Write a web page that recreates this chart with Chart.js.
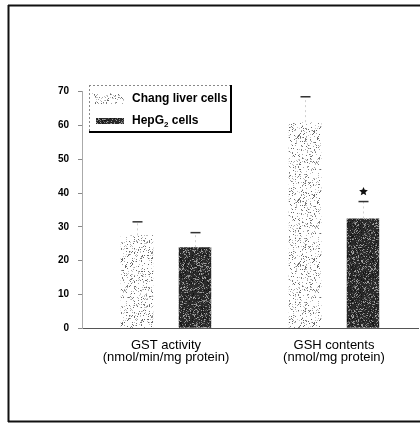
<!DOCTYPE html>
<html>
<head>
<meta charset="utf-8">
<script src="https://cdn.jsdelivr.net/npm/chart.js@4/dist/chart.umd.min.js"></script>
<style>
  html, body { margin: 0; padding: 0; background: #fff; }
  #wrap { width: 420px; height: 423px; position: relative; }
</style>
</head>
<body>
<div id="wrap"><canvas id="c" width="420" height="423"></canvas></div>
<script>
// Categories (two-line axis labels)
const categories = [
  ['GST activity', '(nmol/min/mg protein)'],
  ['GSH contents', '(nmol/mg protein)']
];
const seriesNames = ['Chang liver cells', 'HepG\u2082 cells'];

// Means
const changValues = [27.5, 61];
const hepg2Values = [24, 32.5];

// Upper error (SD) for each bar
const changErr = [4, 7.5];
const hepg2Err = [4.3, 5];

// Significance marks above HepG2 bars
const hepg2Marks = ['', '*'];

// Y axis
const yMin = 0, yMax = 70, yStep = 10;

// ---- stipple textures ----
function hash(n) {
  n = (n ^ 61) ^ (n >>> 16);
  n = (n + (n << 3)) | 0;
  n = n ^ (n >>> 4);
  n = Math.imul(n, 0x27d4eb2d);
  n = n ^ (n >>> 15);
  return (n >>> 0) / 4294967296;
}
function stipple(base, dot, density, seed) {
  const s = 64;
  const cv = document.createElement('canvas');
  cv.width = s; cv.height = s;
  const g = cv.getContext('2d');
  g.fillStyle = base;
  g.fillRect(0, 0, s, s);
  for (let y = 0; y < s; y++) {
    for (let x = 0; x < s; x++) {
      const h = hash(x * 131 + y * 7919 + seed);
      if (h < density) {
        const k = hash(x * 17 + y * 31 + seed * 3);
        g.fillStyle = dot[Math.floor(k * dot.length)];
        g.fillRect(x, y, 1, 1);
      }
    }
  }
  return g.createPattern(cv, 'repeat');
}
const ctx = document.getElementById('c').getContext('2d');
const lightFill = stipple('#ffffff', ['#a8a8a8', '#7a7a7a', '#c8c8c8', '#666'], 0.17, 11);
const darkFill = stipple('#2a2a2a', ['#808080', '#5a5a5a', '#a0a0a0', '#111'], 0.35, 29);

// ---- frame around the figure ----
const framePlugin = {
  id: 'frame',
  beforeDraw(chart) {
    const g = chart.ctx;
    g.save();
    g.strokeStyle = '#111';
    g.lineWidth = 2;
    g.beginPath();
    g.moveTo(8, 5.5); g.lineTo(420, 5.5);
    g.moveTo(8.5, 5); g.lineTo(8.5, 422);
    g.moveTo(8, 421.5); g.lineTo(420, 421.5);
    g.stroke();
    g.restore();
  }
};

// ---- upward error bars and significance marks ----
const errorPlugin = {
  id: 'errors',
  afterDatasetsDraw(chart) {
    const g = chart.ctx;
    const ys = chart.scales.y;
    const errs = [changErr, hepg2Err];
    g.save();
    chart.data.datasets.forEach((ds, i) => {
      const meta = chart.getDatasetMeta(i);
      meta.data.forEach((bar, j) => {
        const v = ds.data[j];
        const top = ys.getPixelForValue(v + errs[i][j]);
        const x = Math.round(bar.x) + 0.5;
        g.strokeStyle = '#d0d0d0';
        g.lineWidth = 1;
        g.setLineDash([2, 3]);
        g.beginPath();
        g.moveTo(x, bar.y);
        g.lineTo(x, top);
        g.stroke();
        g.setLineDash([]);
        g.strokeStyle = '#333';
        g.lineWidth = 1.5;
        g.beginPath();
        g.moveTo(x - 5, top);
        g.lineTo(x + 5, top);
        g.stroke();
        if (i === 1 && hepg2Marks[j]) {
          // five-point star
          const cx = x, cy = top - 10, R = 4.6, r = 2.1;
          g.fillStyle = '#111';
          g.beginPath();
          for (let k = 0; k < 10; k++) {
            const rad = k % 2 ? r : R;
            const a = -Math.PI / 2 + k * Math.PI / 5;
            const px = cx + rad * Math.cos(a), py = cy + rad * Math.sin(a);
            k ? g.lineTo(px, py) : g.moveTo(px, py);
          }
          g.closePath();
          g.fill();
        }
      });
    });
    g.restore();
  }
};

// ---- boxed legend inside the plot ----
function drawLabel(g, text, x, y) {
  let cx = x;
  for (const ch of text) {
    if (ch === '\u2082') {
      g.save();
      g.font = 'bold 8px "Liberation Sans", Arial, sans-serif';
      g.fillText('2', cx, y + 4);
      cx += g.measureText('2').width;
      g.restore();
    } else {
      g.fillText(ch, cx, y);
      cx += g.measureText(ch).width;
    }
  }
}
const legendPlugin = {
  id: 'boxLegend',
  afterDraw(chart) {
    const g = chart.ctx;
    const L = 89, T = 85, R = 231, B = 132;
    g.save();
    // dotted top/left edges
    g.strokeStyle = '#888';
    g.lineWidth = 1;
    g.setLineDash([2, 2]);
    g.beginPath();
    g.moveTo(L, T + 0.5); g.lineTo(R, T + 0.5);
    g.moveTo(L + 0.5, T); g.lineTo(L + 0.5, B);
    g.stroke();
    g.setLineDash([]);
    // heavy right/bottom edges
    g.strokeStyle = '#000';
    g.lineWidth = 2;
    g.beginPath();
    g.moveTo(R, T); g.lineTo(R, B);
    g.moveTo(L, B); g.lineTo(R + 1, B);
    g.stroke();
    // entries
    const ds = chart.data.datasets;
    g.fillStyle = ds[0].backgroundColor;
    g.fillRect(92, 93, 32, 11);
    g.fillStyle = ds[1].backgroundColor;
    g.fillRect(96, 118, 28, 6);
    g.fillStyle = '#000';
    g.font = 'bold 12px "Liberation Sans", Arial, sans-serif';
    g.textBaseline = 'middle';
    drawLabel(g, ds[0].label, 132, 98.5);
    drawLabel(g, ds[1].label, 132, 121);
    g.restore();
  }
};

const yTicks = [];
for (let v = yMin; v <= yMax; v += yStep) yTicks.push(v);

new Chart(ctx, {
  type: 'bar',
  data: {
    labels: categories,
    datasets: [
      { label: seriesNames[0], data: changValues, backgroundColor: lightFill, borderWidth: 0 },
      { label: seriesNames[1], data: hepg2Values, backgroundColor: darkFill, borderWidth: 0 }
    ]
  },
  options: {
    responsive: false,
    animation: false,
    devicePixelRatio: 1,
    layout: { padding: { top: 91.7, right: 2, left: 0, bottom: 0 } },
    datasets: { bar: { categoryPercentage: 0.69, barPercentage: 0.56 } },
    plugins: {
      legend: { display: false },
      tooltip: { enabled: false }
    },
    scales: {
      x: {
        afterFit(s) { s.height = 423 - 328.3; },
        grid: { display: false, drawTicks: false },
        border: { display: true, color: '#555', dash: [3, 3], width: 1 },
        ticks: {
          color: '#000',
          padding: 11,
          maxRotation: 0,
          font: { family: '"Liberation Sans", Arial, sans-serif', size: 13, lineHeight: 0.93 }
        }
      },
      y: {
        min: yMin, max: yMax,
        afterFit(s) { s.width = 82; },
        afterBuildTicks(s) { s.ticks = yTicks.map(v => ({ value: v })); },
        grid: { display: true, drawOnChartArea: false, drawTicks: true, tickLength: 4, color: '#888' },
        border: { display: true, color: '#aaa', dash: [2, 4], width: 1 },
        ticks: {
          color: '#000',
          padding: 9,
          font: { family: '"Liberation Sans", Arial, sans-serif', size: 10, weight: 'bold' }
        }
      }
    }
  },
  plugins: [framePlugin, errorPlugin, legendPlugin]
});
</script>
</body>
</html>
